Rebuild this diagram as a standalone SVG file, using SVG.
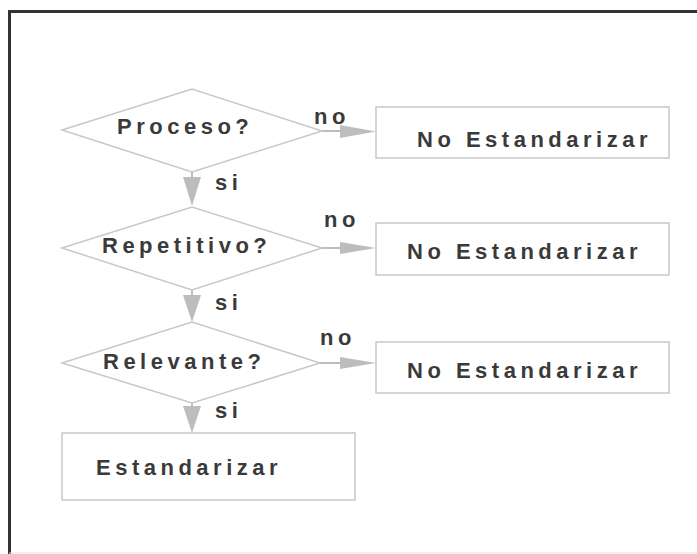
<svg xmlns="http://www.w3.org/2000/svg" width="697" height="554" viewBox="0 0 697 554">
<defs>
<style>
.lbl{font-family:"Liberation Sans",Arial,sans-serif;font-weight:bold;font-size:22px;letter-spacing:4.5px;fill:#3a3a3a}
.dia{fill:#fff;stroke:#c8c8c8;stroke-width:1.5}
.box{fill:#fff;stroke:#c8c8c8;stroke-width:1.5}
.ln{stroke:#bdbdbd;stroke-width:2;fill:none}
.ah{fill:#bdbdbd}
</style>
</defs>
<rect x="0" y="0" width="697" height="554" fill="#fff"/>
<path d="M9.5,554 V11.5 H697" fill="none" stroke="#333" stroke-width="3"/>
<line x1="9" y1="553" x2="697" y2="553" stroke="#e2e2e2" stroke-width="1"/>
<g id="connectors">
<line class="ln" x1="322" y1="131" x2="342" y2="131"/>
<polygon class="ah" points="340,125 376,131.5 340,138"/>
<line class="ln" x1="322" y1="248" x2="342" y2="248"/>
<polygon class="ah" points="340,242 376,248 340,254"/>
<line class="ln" x1="320" y1="363" x2="342" y2="363"/>
<polygon class="ah" points="340,357 376,363 340,369"/>
<line class="ln" x1="192" y1="172" x2="192" y2="180"/>
<polygon class="ah" points="183,177 201,177 192,206"/>
<line class="ln" x1="192" y1="290" x2="192" y2="298"/>
<polygon class="ah" points="183,295 201,295 192,322"/>
<line class="ln" x1="192" y1="403" x2="192" y2="409"/>
<polygon class="ah" points="183,406 201,406 192,433"/>
<text class="lbl" x="314" y="124">no</text>
<text class="lbl" x="324" y="227">no</text>
<text class="lbl" x="320" y="345">no</text>
<text class="lbl" x="215" y="190">si</text>
<text class="lbl" x="215" y="310">si</text>
<text class="lbl" x="215" y="418">si</text>
</g>
<g id="d1">
<polygon class="dia" points="62,130 192,89 322,131 192,172"/>
<text class="lbl" x="117" y="134">Proceso?</text>
</g>
<g id="d2">
<polygon class="dia" points="62,248 192,207 322,248 192,290"/>
<text class="lbl" x="102" y="253">Repetitivo?</text>
</g>
<g id="d3">
<polygon class="dia" points="62,363 192,322 320,363 192,403"/>
<text class="lbl" x="103" y="369">Relevante?</text>
</g>
<g id="b1">
<rect class="box" x="376" y="107" width="293" height="51"/>
<text class="lbl" x="417" y="147">No Estandarizar</text>
</g>
<g id="b2">
<rect class="box" x="376" y="223" width="293" height="52"/>
<text class="lbl" x="407" y="259">No Estandarizar</text>
</g>
<g id="b3">
<rect class="box" x="376" y="342" width="293" height="51"/>
<text class="lbl" x="407" y="378">No Estandarizar</text>
</g>
<g id="b4">
<rect class="box" x="62" y="433" width="293" height="67"/>
<text class="lbl" x="96" y="475">Estandarizar</text>
</g>
</svg>
